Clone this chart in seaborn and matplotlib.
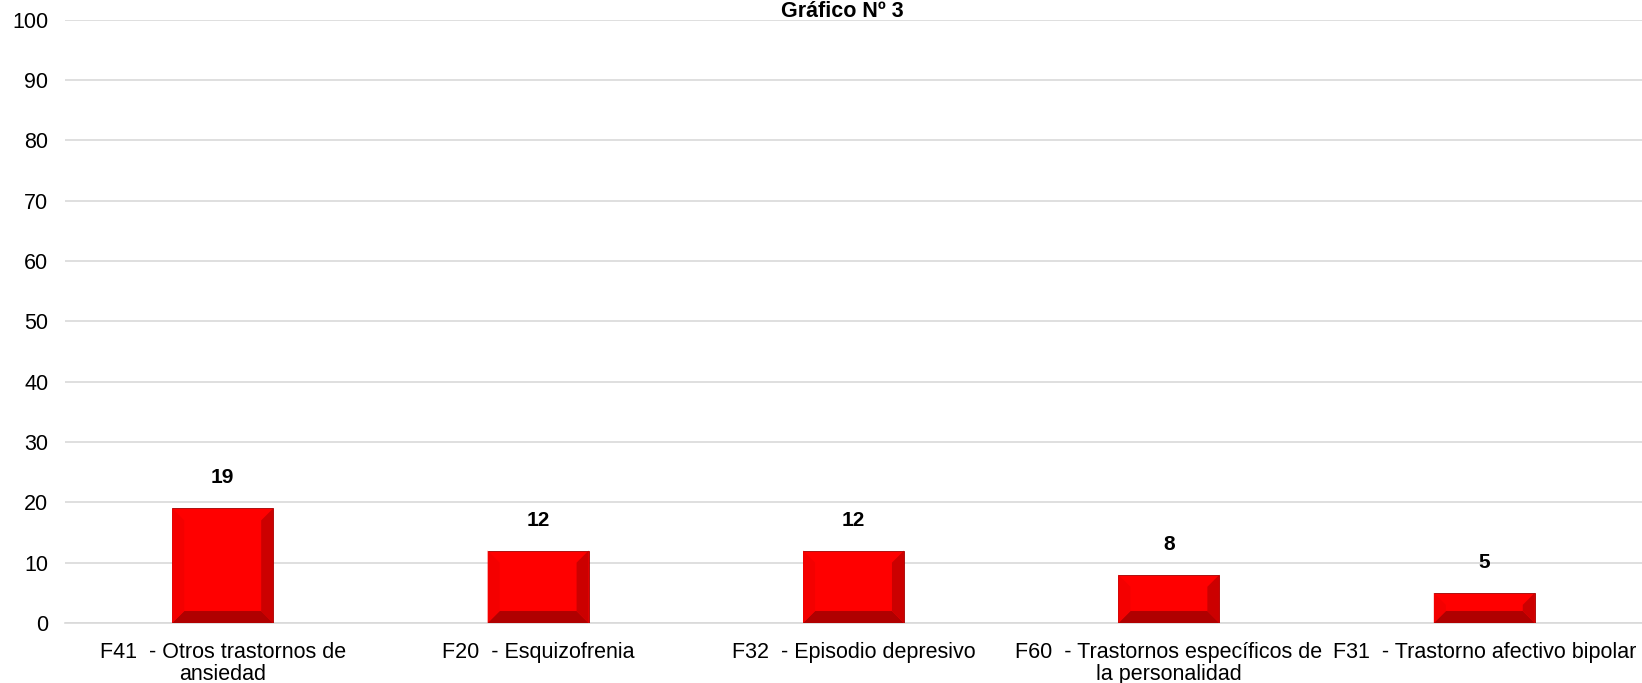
import pandas as pd
import seaborn as sns
import matplotlib.pyplot as plt
from matplotlib.patches import Polygon

categorias = [
    "F41  - Otros trastornos de\nansiedad",
    "F20  - Esquizofrenia",
    "F32  - Episodio depresivo",
    "F60  - Trastornos específicos de\nla personalidad",
    "F31  - Trastorno afectivo bipolar",
]
valores = [19, 12, 12, 8, 5]
titulo = "Gráfico Nº 3"

df = pd.DataFrame({"categoria": categorias, "valor": valores})

sns.set_theme(style="white")
plt.rcParams["font.family"] = ["Liberation Sans", "DejaVu Sans"]
plt.rcParams["text.color"] = "black"

fig = plt.figure(figsize=(16.42, 6.83), dpi=100)
ax = fig.add_axes([0.0396, 0.0878, 0.9604, 0.8836])

sns.barplot(data=df, x="categoria", y="valor", color="#ff0000", saturation=1,
            width=0.32, ax=ax, zorder=3)

ax.set_ylim(0, 100)
ax.set_xlim(-0.5, len(categorias) - 0.5)
ax.set_yticks(range(0, 101, 10))
ax.yaxis.grid(True, color="#d9d9d9", linewidth=1.2, zorder=0)
ax.set_axisbelow(True)
for s in ["top", "right", "left"]:
    ax.spines[s].set_visible(False)
ax.spines["bottom"].set_color("#d9d9d9")
ax.spines["bottom"].set_linewidth(1.2)

ax.set_xlabel("")
ax.set_ylabel("")
ax.tick_params(axis="y", length=0, pad=12, labelsize=15.5, labelcolor="black")
ax.tick_params(axis="x", which="major", length=0, pad=14, labelsize=15.5, labelcolor="black")
ax.set_xticks([i + 0.5 for i in range(len(categorias) - 1)], minor=True)
ax.tick_params(axis="x", which="minor", length=8, width=1.2, color="#d9d9d9", direction="out")
for lab in ax.get_xticklabels():
    lab.set_multialignment("center")
    lab.set_linespacing(1.05)

# bevel shading on the bars
fig.canvas.draw()
inv = ax.transData.inverted()
bev = 12
for p in ax.patches:
    x0, y0 = ax.transData.transform((p.get_x(), 0))
    x1, y1 = ax.transData.transform((p.get_x() + p.get_width(), p.get_height()))
    b = min(bev, (y1 - y0) / 2.5)
    pts = {
        "bottom": [(x0, y0), (x1, y0), (x1 - b, y0 + b), (x0 + b, y0 + b)],
        "right": [(x1, y0), (x1, y1), (x1 - b, y1 - b), (x1 - b, y0 + b)],
        "left": [(x0, y0), (x0, y1), (x0 + b, y1 - b), (x0 + b, y0 + b)],
    }
    cols = {"bottom": "#b00000", "right": "#cc0000", "left": "#f40000"}
    for k, poly in pts.items():
        ax.add_patch(Polygon([inv.transform(q) for q in poly], closed=True,
                             facecolor=cols[k], edgecolor="none", zorder=4))
    p.set_edgecolor("#a00000")
    p.set_linewidth(0.6)

for i, v in enumerate(valores):
    ax.annotate(str(v), (i, v), xytext=(0, 22), textcoords="offset points",
                ha="center", va="center", fontsize=15, fontweight="bold", color="black")

fig.text(0.513, 0.999, titulo, ha="center", va="top", fontsize=15.5,
         fontweight="bold", color="black")

fig.savefig("out.png", dpi=100)
